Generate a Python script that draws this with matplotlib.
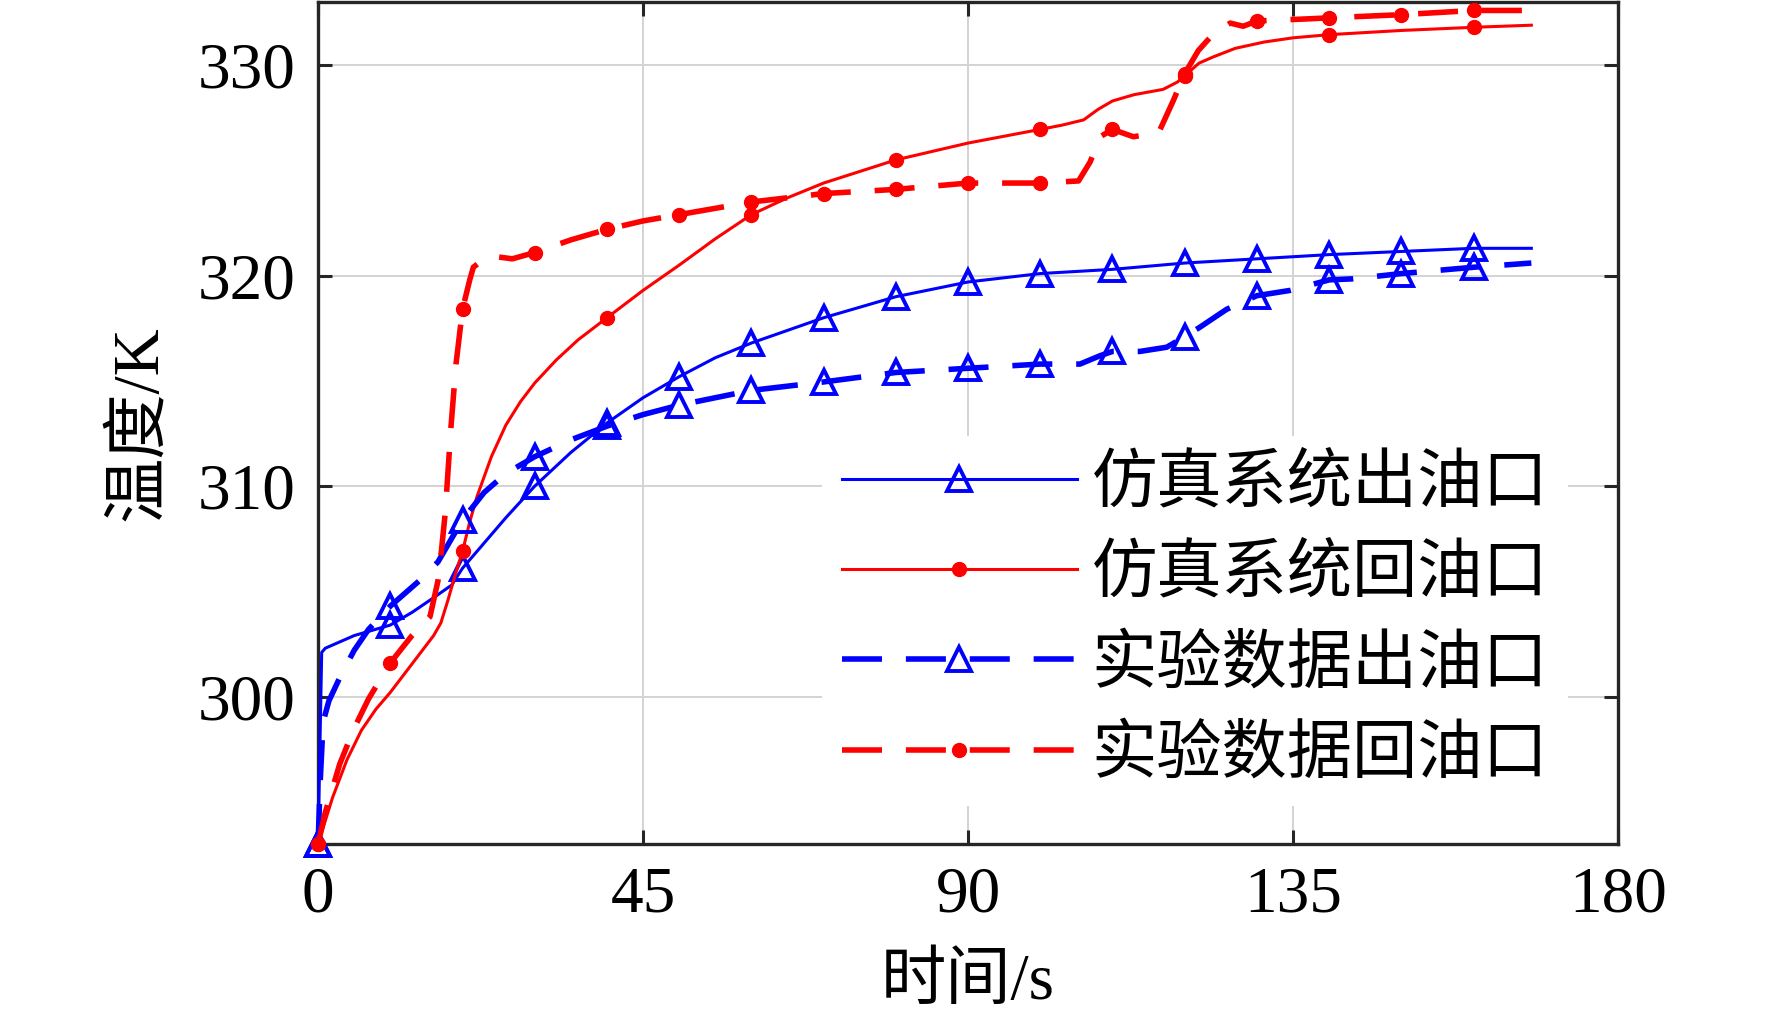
import numpy as np
import matplotlib.pyplot as plt

plt.rcParams['font.family'] = ['Liberation Serif', 'Noto Sans CJK SC']
plt.rcParams['axes.unicode_minus'] = False

# 仿真系统出油口
t_sim_out = [0, 0.5, 1, 3, 5, 8, 10, 13, 16, 18.5, 20, 23, 26, 30, 35, 40, 45, 50, 55, 60,
             70, 80, 90, 100, 110, 120, 130, 140, 150, 160, 168]
v_sim_out = [293, 302.1, 302.3, 302.6, 302.9, 303.2, 303.4, 304.0, 304.7, 305.3, 306.1, 307.3,
             308.5, 310.0, 311.6, 313.0, 314.2, 315.2, 316.1, 316.8,
             318.0, 319.0, 319.7, 320.1, 320.3, 320.6, 320.8, 321.0, 321.15, 321.3, 321.3]

# 仿真系统回油口
t_sim_ret = [0, 2, 4, 6, 8, 10, 12, 14, 16, 17, 18, 19, 20, 21, 22, 24, 26, 28, 30, 33, 36, 40,
             45, 50, 55, 60, 65, 70, 80, 90, 100, 103, 106, 108, 110, 113, 117, 119, 120, 122,
             124, 127, 131, 135, 140, 150, 160, 168]
v_sim_ret = [293, 295.2, 297.0, 298.4, 299.4, 300.2, 301.1, 302.0, 302.9, 303.5, 304.6, 305.8,
             306.9, 308.3, 309.5, 311.4, 312.9, 314.0, 314.9, 316.0, 316.95, 318.0,
             319.3, 320.5, 321.75, 322.9, 323.7, 324.4, 325.5, 326.3, 326.95, 327.15, 327.4,
             327.9, 328.3, 328.6, 328.85, 329.2, 329.5, 330.1, 330.4, 330.8, 331.1, 331.3,
             331.45, 331.65, 331.8, 331.9]

# 实验数据出油口
t_exp_out = [0, 0.3, 0.7, 1.5, 3, 5, 7, 10, 14, 16.6, 20, 23, 26, 30, 35, 40, 45, 50, 60, 70,
             80, 90, 100, 105.5, 108.3, 110, 113.8, 117.5, 120, 122.1, 125.8, 130, 134.6, 140,
             143.3, 150, 160, 168]
v_exp_out = [293, 296, 298.8, 299.8, 300.9, 302.2, 303.2, 304.3, 305.5, 306.4, 308.4, 309.7,
             310.6, 311.4, 312.2, 312.85, 313.4, 313.85, 314.55, 314.95, 315.4, 315.6, 315.8,
             315.8, 316.2, 316.4, 316.4, 316.6, 317.1, 317.55, 318.4, 319.05, 319.3, 319.8,
             319.85, 320.1, 320.4, 320.6]

# 实验数据回油口
t_exp_ret = [0, 1, 3, 5, 7, 10, 13, 15.5, 16.6, 17.1, 17.6, 18.4, 19.1, 20, 21, 21.5, 23, 24.7,
             26.9, 30, 35, 40, 45, 50, 60, 70, 80, 90, 100, 105.3, 106.9, 108.3, 110, 112.9,
             116.4, 118.4, 120, 121.9, 124, 126.3, 128.1, 130, 137, 140, 150, 160, 168]
v_exp_ret = [293, 294.5, 296.8, 298.5, 299.9, 301.6, 302.9, 303.8, 305.5, 307.0, 308.7, 312.8,
             315.8, 318.4, 319.8, 320.4, 320.8, 320.9, 320.8, 321.1, 321.7, 322.2, 322.6,
             322.9, 323.5, 323.9, 324.1, 324.4, 324.4, 324.5, 325.4, 326.6, 326.95, 326.6,
             326.8, 328.3, 329.6, 330.7, 331.5, 332.0, 331.85, 332.1, 332.2, 332.25, 332.4,
             332.6, 332.6]

labels = ['仿真系统出油口', '仿真系统回油口', '实验数据出油口', '实验数据回油口']
x_ticks = [0, 45, 90, 135, 180]
y_ticks = [300, 310, 320, 330]


def every(t, step):
    # 标记点位置：时间为 step 的整数倍
    return [i for i, v in enumerate(t) if abs(v / step - round(v / step)) < 1e-9]


fig = plt.figure(figsize=(17.72, 10.21), dpi=100)
ax = fig.add_axes([0.1795, 0.1734, 0.7336, 0.8246])

dash = (7.2, 4.3)
ax.plot(t_sim_out, v_sim_out, color='#0000ff', lw=2.2, marker='^', ms=17, mfc='none', mew=2.8,
        markevery=every(t_sim_out, 10), label=labels[0], clip_on=False, zorder=3)
ax.plot(t_sim_ret, v_sim_ret, color='#ff0000', lw=2.2, marker='o', ms=10, mew=1,
        markevery=every(t_sim_ret, 20), label=labels[1], clip_on=False, zorder=3)
ax.plot(t_exp_out, v_exp_out, color='#0000ff', lw=4, ls=(0, dash), marker='^', ms=17, mfc='none',
        mew=2.8, markevery=every(t_exp_out, 10), label=labels[2], clip_on=False, zorder=3)
ax.plot(t_exp_ret, v_exp_ret, color='#ff0000', lw=4, ls=(0, dash), marker='o', ms=10, mew=1,
        markevery=every(t_exp_ret, 10), label=labels[3], clip_on=False, zorder=3)

ax.set_xlim(0, 180)
ax.set_ylim(293, 333)
ax.set_xticks(x_ticks)
ax.set_yticks(y_ticks)
ax.tick_params(direction='in', length=10, width=2.2, labelsize=47, pad=16,
               top=True, right=True, color='#262626')
for s in ax.spines.values():
    s.set_linewidth(2.4)
    s.set_color('#262626')
ax.grid(True, color='#d3d3d3', lw=1.4)
ax.set_axisbelow(True)

ax.set_xlabel('时间/s', fontsize=47, labelpad=20)
ax.set_ylabel('温度/K', fontsize=47, labelpad=20)

leg = ax.legend(loc='lower right', bbox_to_anchor=(0.9615, 0.045), borderaxespad=0,
                fontsize=47, frameon=True, edgecolor='none', facecolor='white', framealpha=1,
                fancybox=False, handlelength=3.6, handletextpad=0.23, labelspacing=0.45,
                borderpad=0.3)

plt.savefig('out.png', dpi=100)
